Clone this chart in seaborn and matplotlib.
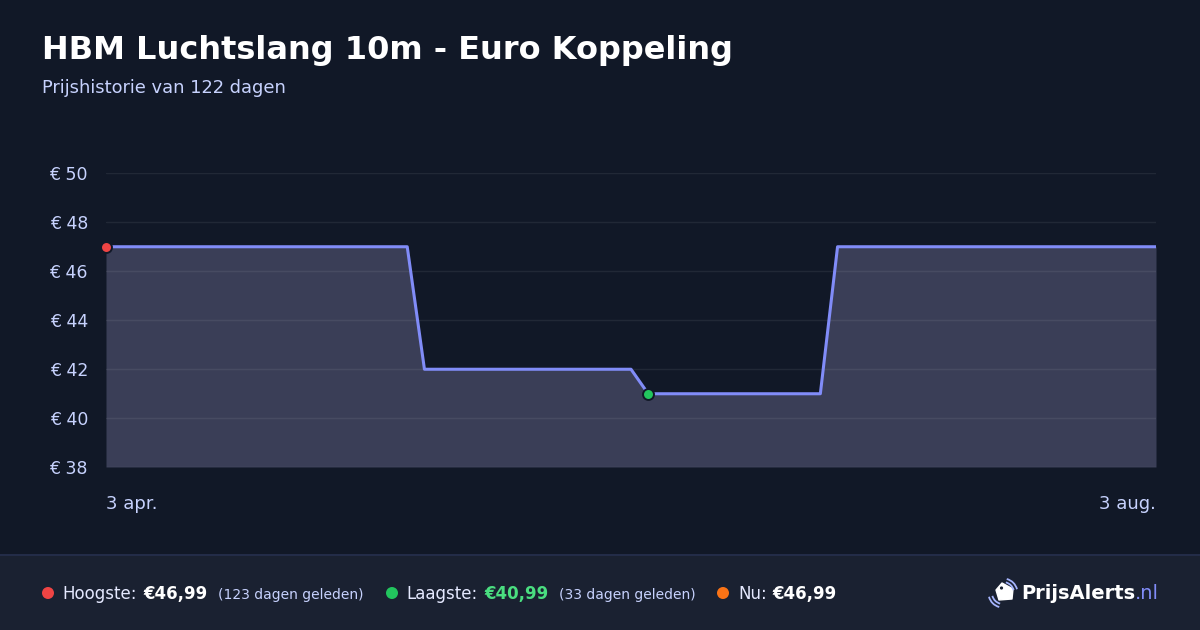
import pandas as pd
import matplotlib
matplotlib.use("Agg")
import matplotlib.pyplot as plt
import seaborn as sns
from matplotlib.patches import Rectangle, Polygon, Arc, Circle

# price history
dates = ["2025-04-03", "2025-05-08", "2025-05-10", "2025-06-03",
         "2025-06-05", "2025-06-25", "2025-06-27", "2025-08-03"]
prices = [46.99, 46.99, 41.99, 41.99, 40.99, 40.99, 46.99, 46.99]
y_ticks = [38, 40, 42, 44, 46, 48, 50]
x_labels = ["3 apr.", "3 aug."]

title = "HBM Luchtslang 10m - Euro Koppeling"
subtitle = "Prijshistorie van 122 dagen"
high_txt, low_txt, now_txt = "€46,99", "€40,99", "€46,99"
high_ago, low_ago = "(123 dagen geleden)", "(33 dagen geleden)"

BG = "#111827"
FOOT = "#1a2131"
LINE = "#818cf8"
FILL = "#3a3e57"
LAV = "#c7d2fe"

sns.set_style("dark")
plt.rcParams["font.family"] = ["DejaVu Sans"]

df = pd.DataFrame({"date": pd.to_datetime(dates), "price": prices})

W, H = 1200, 630
fig = plt.figure(figsize=(12, 6.3), dpi=100, facecolor=BG)

def fx(px):
    return px / W

def fy(py):
    return 1 - py / H

# footer band
fig.patches.append(Rectangle((0, 0), 1, fy(554), transform=fig.transFigure,
                             facecolor=FOOT, edgecolor="none", zorder=-2))
fig.lines.append(plt.Line2D([0, 1], [fy(554.5)] * 2, transform=fig.transFigure,
                            color="#262f4d", lw=1.2, zorder=-1))

ax = fig.add_axes([fx(106), fy(467), fx(1156) - fx(106), fy(173) - fy(467)])
ax.set_facecolor(BG)

ax.fill_between(df["date"], df["price"], 38, color=FILL, lw=0, zorder=1)
sns.lineplot(data=df, x="date", y="price", color=LINE, lw=2.2, ax=ax, zorder=3)

hi = df.iloc[0]
lo = df.loc[df["price"].idxmin()]
ax.scatter([hi["date"]], [hi["price"]], s=62, color="#ef4444",
           edgecolor=BG, linewidth=1.4, zorder=4, clip_on=False)
ax.scatter([lo["date"]], [lo["price"]], s=62, color="#22c55e",
           edgecolor=BG, linewidth=1.4, zorder=4, clip_on=False)

ax.set_xlim(df["date"].iloc[0], df["date"].iloc[-1])
ax.set_ylim(38, 50)
ax.set_yticks(y_ticks)
ax.set_yticklabels([f"€ {v}" for v in y_ticks])
ax.set_xticks([df["date"].iloc[0], df["date"].iloc[-1]])
ax.set_xticklabels(x_labels)
xl = ax.get_xticklabels()
xl[0].set_horizontalalignment("left")
xl[1].set_horizontalalignment("right")
ax.tick_params(axis="y", length=0, pad=13, labelsize=12.5, labelcolor=LAV)
ax.tick_params(axis="x", length=0, pad=20, labelsize=13, labelcolor=LAV)
ax.set_xlabel("")
ax.set_ylabel("")
for s in ax.spines.values():
    s.set_visible(False)
ax.set_axisbelow(False)
ax.grid(False)
ax.yaxis.grid(True, color="white", alpha=0.07, lw=1)

# title block
fig.text(fx(42), fy(59), title, color="white", fontsize=23,
         fontweight="bold", va="baseline", ha="left")
fig.text(fx(42), fy(93), subtitle, color=LAV, fontsize=12.9,
         va="baseline", ha="left")

# footer stats
base = fy(599)
dot_y = fy(593)
for x, c in [(48, "#ef4444"), (392, "#22c55e"), (723, "#f97316")]:
    fig.patches.append(Circle((fx(x) * W, dot_y * H), 6, transform=None,
                              facecolor=c, edgecolor="none"))

fig.text(fx(62), base, "Hoogste:", color="#e5e9ff", fontsize=12, va="baseline")
fig.text(fx(143), base, high_txt, color="white", fontsize=12,
         fontweight="bold", va="baseline")
fig.text(fx(218), base, high_ago, color=LAV, fontsize=10, va="baseline")
fig.text(fx(406), base, "Laagste:", color="#e5e9ff", fontsize=12, va="baseline")
fig.text(fx(484), base, low_txt, color="#4ade80", fontsize=12,
         fontweight="bold", va="baseline")
fig.text(fx(559), base, low_ago, color=LAV, fontsize=10, va="baseline")
fig.text(fx(738), base, "Nu:", color="#e5e9ff", fontsize=12, va="baseline")
fig.text(fx(772), base, now_txt, color="white", fontsize=12,
         fontweight="bold", va="baseline")

# logo
fig.text(fx(1135), base, "PrijsAlerts", color="white", fontsize=14,
         fontweight="bold", va="baseline", ha="right")
fig.text(fx(1135), base, ".nl", color=LINE, fontsize=14, va="baseline", ha="left")

ax_icon = fig.add_axes([fx(988), fy(610), fx(30), fy(0) - fy(34)])
ax_icon.set_xlim(0, 30)
ax_icon.set_ylim(0, 34)
ax_icon.axis("off")
ax_icon.add_patch(Polygon([(8, 20), (14, 27), (25, 21), (24, 11), (11, 10)],
                          closed=True, facecolor="white", edgecolor="white",
                          lw=1, joinstyle="round"))
ax_icon.add_patch(Circle((13.5, 22), 1.6, facecolor=FOOT, edgecolor="none"))
for r in (11, 14.5):
    ax_icon.add_patch(Arc((15, 17), 2 * r, 2 * r, theta1=15, theta2=75,
                          color="#a5b4fc", lw=1.3))
    ax_icon.add_patch(Arc((15, 17), 2 * r, 2 * r, theta1=195, theta2=255,
                          color="#a5b4fc", lw=1.3))

fig.savefig("out.png", dpi=100, facecolor=BG)
